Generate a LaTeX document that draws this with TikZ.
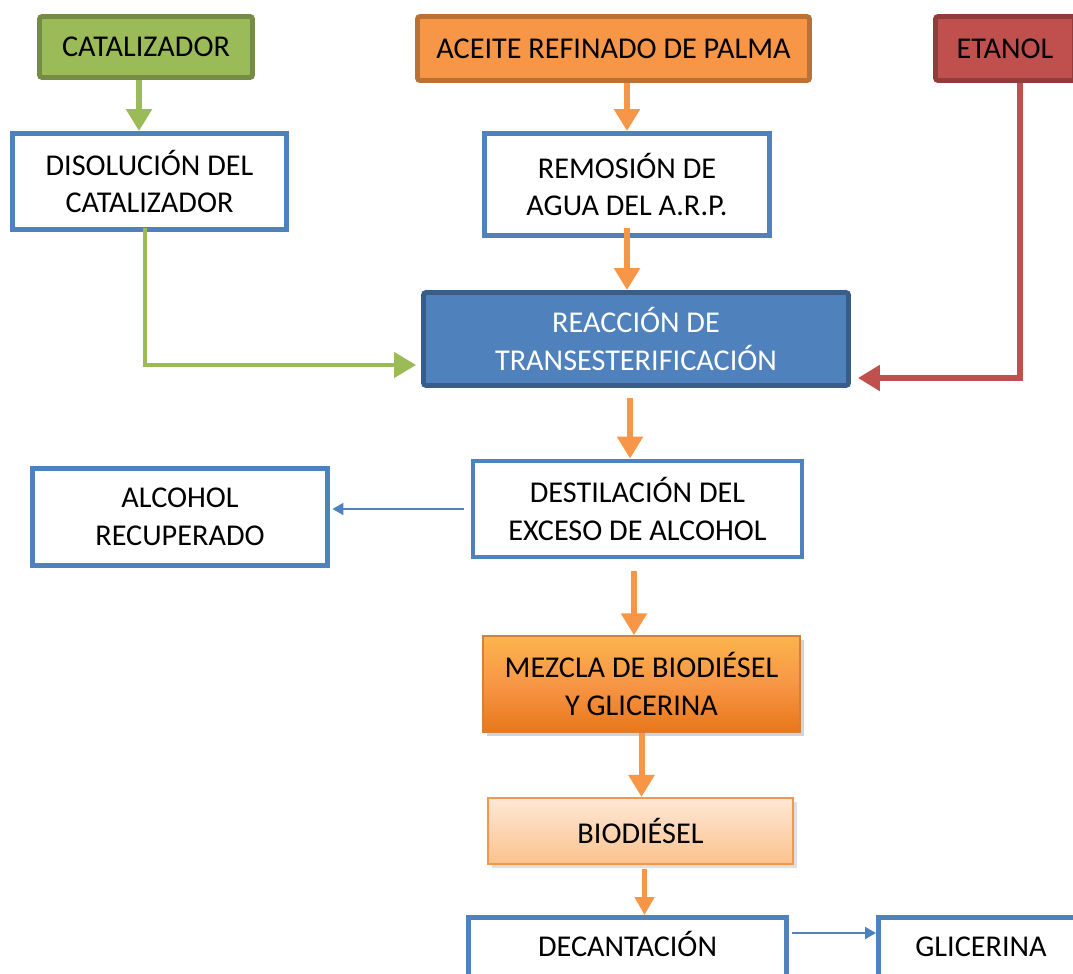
\documentclass[tikz,border=0pt]{standalone}
\usepackage{fontspec}
\setmainfont{Carlito}
\usetikzlibrary{arrows.meta, positioning, calc, shadows}
\definecolor{cgreen}{HTML}{9BBB59}
\definecolor{corange}{HTML}{F79646}
\definecolor{cred}{HTML}{C0504D}
\definecolor{cblue}{HTML}{4F81BD}
\definecolor{cbluedark}{HTML}{385D8A}
\definecolor{cmixtop}{HTML}{FBB44C}
\definecolor{cmixbot}{HTML}{E8771A}
\definecolor{cbiotop}{HTML}{FFE8D6}
\definecolor{cbiobot}{HTML}{FBC28E}
\tikzset{
  every picture/.style={font=\fontsize{17.2}{21.6}\selectfont},
  box/.style={draw=cblue, fill=white, line width=2.8pt, align=center, inner sep=4pt},
  src/.style={draw=#1!75!black, fill=#1, line width=2.8pt, rounded corners=1.5pt, align=center},
  arrow/.style={draw=#1, line width=3.4pt, -{Triangle[width=0.5cm, length=0.44cm]}},
  slim/.style={draw=cblue, line width=1.2pt, -{Triangle[width=0.24cm, length=0.22cm]}},
}

\begin{document}
\begin{tikzpicture}
  \useasboundingbox (0,0) rectangle (21.46,-19.46);
  \tikzset{st/.style={box, minimum width=#1}}
  % row 1: the three raw materials
  \node[src=cgreen, minimum width=4.26cm, minimum height=1.22cm] (cat) at (2.92,-0.94) {CATALIZADOR};
  \node[src=corange, minimum width=7.84cm, minimum height=1.28cm] (oil) at (12.27,-0.97) {ACEITE REFINADO DE PALMA};
  \node[src=cred, minimum width=2.78cm, minimum height=1.28cm] (eth) at (20.10,-0.97) {ETANOL};
  % row 2: preparing catalyst and oil
  \node[st=5.48cm, minimum height=1.92cm] (diss) at (2.99,-3.63) {DISOLUCIÓN DEL\\CATALIZADOR};
  \node[st=5.70cm, minimum height=2.04cm] (dry) at (12.54,-3.69) {REMOSIÓN DE\\AGUA DEL A.R.P.};
  % the reactor
  \node[box, draw=cbluedark, fill=cblue, text=white, rounded corners=1.5pt, minimum width=8.5cm, minimum height=1.86cm] (reac) at (12.72,-6.78) {REACCIÓN DE\\TRANSESTERIFICACIÓN};
  % separation steps
  \node[st=6.58cm, minimum height=1.92cm] (dist) at (12.75,-10.18) {DESTILACIÓN DEL\\EXCESO DE ALCOHOL};
  \node[st=5.90cm, minimum height=1.94cm] (alc) at (3.60,-10.34) {ALCOHOL\\RECUPERADO};
  \node[draw=corange!85!black, line width=0.8pt, top color=cmixtop, bottom color=cmixbot, middle color=corange, drop shadow={opacity=0.35}, align=center, minimum width=6.34cm, minimum height=1.92cm] (mix) at (12.83,-13.68) {MEZCLA DE BIODIÉSEL\\Y GLICERINA};
  \node[draw=corange, line width=1.2pt, top color=cbiotop, bottom color=cbiobot, drop shadow={opacity=0.25}, minimum width=6.1cm, minimum height=1.32cm] (bio) at (12.81,-16.62) {BIODIÉSEL};
  \node[st=6.36cm, minimum height=1.26cm, text height=12pt, text depth=3pt] (dec) at (12.55,-18.98) {DECANTACIÓN};
  \node[st=4.1cm, minimum height=1.26cm, text height=12pt, text depth=3pt] (gly) at (19.62,-18.98) {GLICERINA};
  % feeds into the reactor
  \draw[arrow=cgreen] ([xshift=-0.14cm]cat.south) -- ([xshift=-0.14cm]cat.south |- diss.north);
  \draw[arrow=cgreen, line width=2.6pt] ([xshift=-0.09cm, yshift=0.08cm]diss.south) |- ([yshift=-0.52cm, xshift=-0.1cm]reac.west);
  \draw[arrow=corange] (oil.south -| dry.north) -- (dry.north);
  \draw[arrow=corange] ([yshift=0.2cm]dry.south) -- (dry.south |- reac.north);
  \draw[arrow=cred, line width=3pt] ([xshift=0.3cm]eth.south) |- ([yshift=-0.78cm, xshift=0.14cm]reac.east);
  % down the main line
  \draw[arrow=corange, shorten <=0.2cm] ([xshift=-0.12cm]reac.south) -- ([xshift=-0.12cm]reac.south |- dist.north);
  \draw[slim, shorten <=0.14cm, shorten >=0.05cm] (dist.west) -- (dist.west -| alc.east);
  \draw[arrow=corange, shorten <=0.24cm] ([xshift=-0.07cm]dist.south) -- ([xshift=-0.07cm]dist.south |- mix.north);
  \draw[arrow=corange] (mix.south) -- (mix.south |- bio.north);
  \draw[arrow=corange, line width=2.4pt, -{Triangle[width=0.38cm, length=0.36cm]}, shorten <=0.08cm] ([xshift=0.08cm]bio.south) -- ([xshift=0.08cm]bio.south |- dec.north);
  \draw[slim, shorten <=0.06cm] ([yshift=0.32cm]dec.east) -- ([yshift=0.32cm]dec.east -| gly.west);
\end{tikzpicture}
\end{document}
